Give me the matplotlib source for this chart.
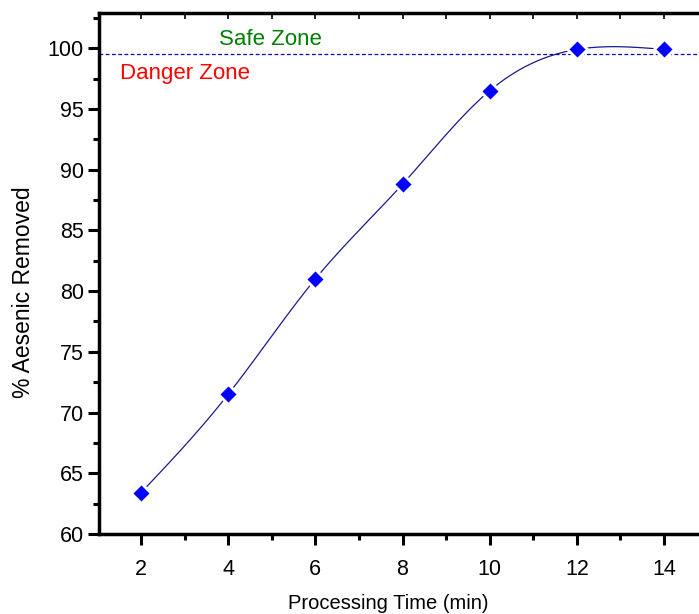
import numpy as np
import matplotlib
matplotlib.use('Agg')
import matplotlib.pyplot as plt
from matplotlib.ticker import MultipleLocator

plt.rcParams['font.family'] = ['Liberation Sans', 'DejaVu Sans']

time_min = [2, 4, 6, 8, 10, 12, 14]
removed = [63.4, 71.5, 81.0, 88.8, 96.5, 99.9, 99.9]
safe_level = 99.5


def natural_spline(x, y, xs):
    x = np.asarray(x, float)
    y = np.asarray(y, float)
    n = len(x)
    h = np.diff(x)
    A = np.zeros((n, n))
    b = np.zeros(n)
    A[0, 0] = A[-1, -1] = 1
    for i in range(1, n - 1):
        A[i, i - 1] = h[i - 1]
        A[i, i] = 2 * (h[i - 1] + h[i])
        A[i, i + 1] = h[i]
        b[i] = 6 * ((y[i + 1] - y[i]) / h[i] - (y[i] - y[i - 1]) / h[i - 1])
    m = np.linalg.solve(A, b)
    idx = np.clip(np.searchsorted(x, xs) - 1, 0, n - 2)
    x0, x1 = x[idx], x[idx + 1]
    hh = x1 - x0
    t0, t1 = x1 - xs, xs - x0
    return (m[idx] * t0 ** 3 / (6 * hh) + m[idx + 1] * t1 ** 3 / (6 * hh)
            + (y[idx] / hh - m[idx] * hh / 6) * t0
            + (y[idx + 1] / hh - m[idx + 1] * hh / 6) * t1)


fig = plt.figure(figsize=(6.99, 6.14), dpi=100)
# right edge of the frame lies outside the picture, as in the original
ax = fig.add_axes([99 / 699, 80 / 614, 608.6 / 699, 521 / 614])

xs = np.linspace(time_min[0], time_min[-1], 400)
ax.plot(xs, natural_spline(time_min, removed, xs), color='#1a1a8c', lw=0.9, zorder=2)
ax.plot(time_min, removed, 'D', color='#0000ff', ms=10.5, mec='white', mew=2, zorder=3)
ax.axhline(safe_level, color='#0000cc', lw=0.9, ls=(0, (3, 2)), zorder=1)

ax.text(3.8, 100.7, 'Safe Zone', color='#008000', fontsize=16, va='center')
ax.text(1.52, 97.9, 'Danger Zone', color='#ff0000', fontsize=16, va='center')

ax.set_xlim(1.036, 15.0)
ax.set_ylim(60, 102.9)
ax.xaxis.set_major_locator(MultipleLocator(2))
ax.xaxis.set_minor_locator(MultipleLocator(1))
ax.yaxis.set_major_locator(MultipleLocator(5))
ax.yaxis.set_minor_locator(MultipleLocator(2.5))

for s in ['left', 'bottom', 'top']:
    ax.spines[s].set_linewidth(2.5)
ax.spines['right'].set_visible(False)
ax.tick_params(which='major', direction='out', length=8, width=2.2, labelsize=15.5, pad=3)
ax.tick_params(which='minor', direction='out', length=4, width=2.2)
ax.tick_params(axis='x', which='major', pad=10)

# small inward ticks on the top frame
top = ax.secondary_xaxis('top')
top.xaxis.set_major_locator(MultipleLocator(1))
top.tick_params(direction='in', length=4, width=1.2, labeltop=False)
top.spines['top'].set_visible(False)

ax.set_xlabel('Processing Time (min)', fontsize=14.5)
ax.xaxis.set_label_coords(0.475, -0.115)
ax.set_ylabel('% Aesenic Removed', fontsize=16.5)
ax.yaxis.set_label_coords(-0.105, 0.464)

fig.savefig('out.png', dpi=100)
